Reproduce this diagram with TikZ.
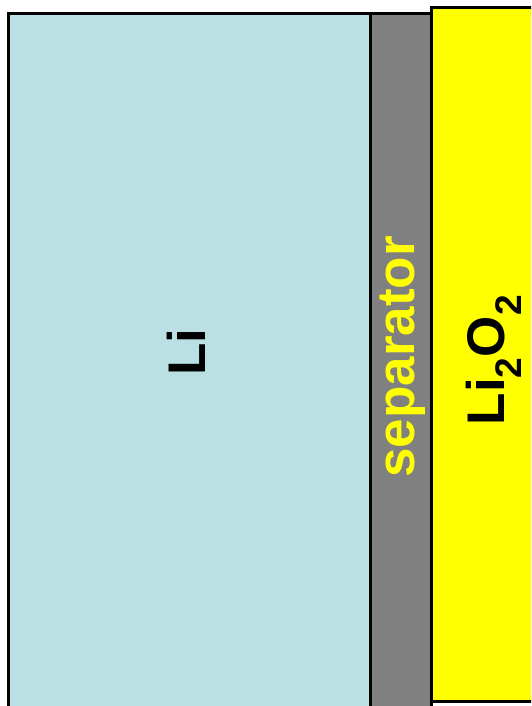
\documentclass[tikz,border=0pt]{standalone}
\usepackage{fontspec}
\setmainfont{Liberation Sans}
\usetikzlibrary{positioning}

\definecolor{lithium}{RGB}{187,224,227}
\definecolor{sepgray}{RGB}{128,128,128}
\definecolor{oxide}{RGB}{255,255,0}

\begin{document}
\begin{tikzpicture}[
    x=1pt, y=-1pt,
    layer/.style={
        draw=black,
        line width=2.6pt,
        inner sep=0pt,
        anchor=north west
    },
    lab/.style={
        font=\fontsize{53}{60}\selectfont\bfseries,
        rotate=90,
        inner sep=0pt
    }
]
\clip (0,0) rectangle (531,706);

% =========================================================
% Cell layers: anode, separator, cathode
% =========================================================
\node[layer, fill=lithium, minimum width=362pt, minimum height=720pt] (li) at (7,12) {};
\node[layer, fill=sepgray, minimum width=61pt, minimum height=720pt] (sep) at (369,12) {};
\node[layer, fill=oxide, minimum width=120pt, minimum height=694pt] (ox) at (430,6) {};

% =========================================================
% Labels
% =========================================================
\node[lab, text=black] (lilab) at (186,352) {Li};
\node[lab, text=oxide] (seplab) at (403,357) {separator};
\node[lab, text=black] (oxlab) at (494,360) {Li\textsubscript{2}O\textsubscript{2}};

\end{tikzpicture}
\end{document}
